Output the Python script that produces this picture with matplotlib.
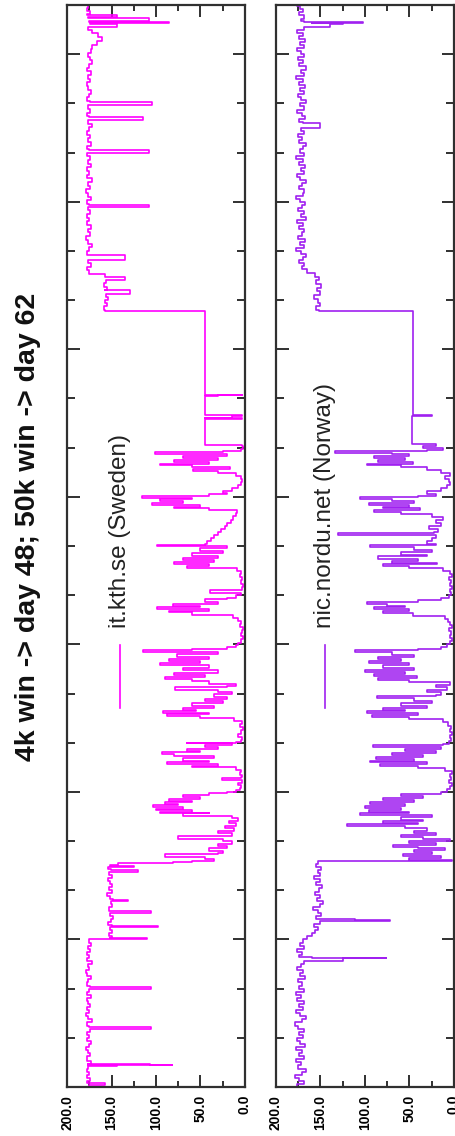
import matplotlib
matplotlib.use("Agg")
import matplotlib.pyplot as plt
from matplotlib.ticker import MultipleLocator, FixedLocator

plt.rcParams['font.family'] = ['Liberation Sans', 'DejaVu Sans']

title = "4k win -> day 48; 50k win -> day 62"
series_names = ["it.kth.se (Sweden)", "nic.nordu.net (Norway)"]
series_colors = ["#ff00ff", "#a020f0"]
value_ticks = [0, 50, 100, 150, 200]
value_tick_labels = ["0.0", "50.0", "100.0", "150.0", "200.0"]

# ---- Sweden (hours since start, value) ----
se_hours = [
    0.0, 0.3, 0.6, 0.7, 1.0, 1.5, 2.0, 2.5, 3.0, 3.4, 3.5, 3.55, 3.6, 3.65, 3.7, 3.8, 4.3, 5.0, 5.5, 6.0,
    6.5, 7.0, 7.5, 8.0, 8.5, 9.0, 9.5, 9.8, 9.9, 10.5, 11.0, 11.5, 12.0, 12.5, 13.0, 13.5, 14.0, 14.5,
    15.0, 15.5, 16.0, 16.3, 16.4, 17.0, 17.5, 18.0, 18.5, 19.0, 19.5, 20.0, 20.5, 21.0, 21.5, 22.0,
    22.5, 23.0, 23.5, 24.0, 24.2, 24.3,
    24.5, 25.0, 25.5, 26.0, 26.2, 26.3, 26.8, 27.3, 27.8, 28.3, 28.6, 28.7, 29.2, 29.7, 30.2, 30.4,
    30.5, 31.0, 31.5, 32.0, 32.5, 33.0, 33.5, 34.0, 34.5, 35.0, 35.3, 35.4, 35.8, 36.0, 36.1, 36.4, 36.6,
    36.8, 37.1, 37.4, 37.9, 38.0, 38.4, 38.8, 39.2, 39.6, 40.0, 40.4, 40.8, 40.9, 41.3, 41.7, 42.1,
    42.5, 42.9, 43.3, 43.7, 44.1, 44.5, 44.6,
    44.8, 45.0, 45.3, 45.5, 45.8, 46.0, 46.3, 46.6, 46.9, 47.2, 47.5, 47.8, 48.0,
    48.3, 48.7, 49.1, 49.5, 49.9, 50.3, 50.4, 50.8, 51.2, 51.6, 52.0,
    52.2, 52.5, 52.9, 53.1, 53.5, 53.8, 54.2, 54.5, 54.7, 55.0, 55.3, 55.6, 55.9, 56.0, 56.1,
    56.5, 57.0, 57.5, 58.0, 58.5, 59.0, 59.5, 60.0,
    60.3, 60.6, 60.8, 61.1, 61.3, 61.7, 62.0, 62.4, 62.8, 63.1, 63.5, 63.9,
    64.2, 64.6, 65.1, 65.2, 65.6, 66.0,
    66.3, 66.7, 67.0, 67.4, 67.8, 68.2, 68.6, 69.0, 69.3, 69.7, 70.0, 70.4, 70.8, 71.1, 71.3, 71.6, 71.9,
    72.3, 72.8, 73.3, 73.8, 74.3, 74.8, 75.3, 75.8, 76.3, 76.8,
    77.2, 77.5, 77.8, 78.0, 78.3, 78.6, 78.9, 79.3, 79.6,
    80.0, 80.4, 80.8, 80.9, 81.4, 81.9, 82.4, 82.9, 83.4, 83.9, 84.4,
    84.7, 85.0, 85.4, 85.7, 86.0, 86.4, 86.8, 87.2, 87.6, 88.0, 88.2, 88.4,
    88.8, 89.3, 89.8, 90.3, 90.8, 91.3, 91.8, 92.3, 92.8, 93.3, 93.8, 94.2,
    94.4, 94.7, 95.0, 95.3, 95.6, 95.8, 96.1, 96.4, 96.6,
    96.9, 97.4, 97.9, 98.4, 98.9, 99.4, 99.9, 100.2, 100.5, 100.8,
    101.1, 101.4, 101.7, 102.0, 102.3, 102.6, 102.9, 103.3, 103.5, 103.8, 104.2, 104.4, 104.5,
    108.7, 108.8, 108.9, 109.2, 109.3, 109.4, 112.4, 112.5, 112.6, 112.7, 126.3,
    126.4, 127.0, 127.5, 128.0, 128.5, 129.0, 129.6, 129.7, 130.2, 130.7, 131.2, 131.7, 131.8, 132.3, 132.9,
    133.4, 134.0, 134.6, 135.3, 135.4, 136.0, 136.6, 137.2, 137.8, 138.4, 139.0, 139.6, 140.2, 140.8,
    141.4, 142.0, 142.6, 143.2, 143.5, 143.6, 144.2, 144.8, 145.4, 146.0, 146.6, 147.2, 147.8, 148.4,
    149.0, 149.6, 150.2, 150.8, 151.4, 152.0, 152.4, 152.5, 153.1, 153.7, 154.3, 154.9, 155.5, 156.1,
    156.7, 157.3, 157.8, 157.9, 158.5, 159.1, 159.7, 160.2, 160.3, 160.4, 161.0, 161.6, 162.2, 162.8,
    163.4, 164.0, 164.6, 165.2, 165.8, 166.4, 167.0, 167.6, 168.2, 168.8, 169.5, 170.2, 170.8, 171.4,
    172.0, 172.4, 172.9, 173.0, 173.1, 173.2, 173.3, 173.4, 173.9, 174.0, 174.4, 174.5, 175.0, 175.5, 176.0,
]
se_vals = [
    176, 175, 157, 176, 178, 174, 177, 175, 178, 176, 144, 176, 82, 129, 107, 176, 173, 177, 174, 176,
    179, 175, 173, 177, 175, 178, 174, 106, 175, 177, 172, 176, 179, 175, 177, 174, 176, 178,
    173, 177, 175, 106, 174, 178, 176, 173, 177, 179, 175, 176, 172, 177, 175, 178,
    174, 176, 173, 175, 110, 152,
    150, 153, 149, 152, 98, 150, 154, 151, 148, 152, 106, 150, 153, 149, 151, 131,
    148, 152, 155, 150, 153, 149, 152, 154, 150, 153, 120, 151, 154, 125, 152, 143, 81,
    60, 35, 45, 90, 30, 25, 40, 20, 30, 15, 25, 75, 20, 15, 30, 12,
    22, 10, 18, 8, 15, 70, 40,
    95, 60, 100, 70, 103, 75, 90, 60, 85, 50, 70, 40, 20,
    10, 6, 4, 8, 3, 26, 5, 3, 6, 4, 10,
    60, 30, 88, 40, 70, 35, 80, 93, 50, 65, 30, 45, 15, 65, 10,
    5, 3, 8, 4, 2, 6, 3, 12,
    50, 88, 40, 92, 55, 70, 35, 60, 25, 45, 20, 35,
    15, 30, 79, 20, 10, 40,
    60, 90, 45, 80, 30, 70, 40, 95, 50, 85, 40, 76, 30, 115, 60, 20, 10,
    8, 4, 2, 5, 3, 2, 6, 4, 8, 13,
    60, 85, 40, 99, 50, 81, 30, 45, 20,
    10, 5, 39, 6, 3, 2, 5, 3, 6, 4, 9,
    65, 40, 80, 35, 70, 30, 60, 25, 50, 20, 99, 45,
    43, 38, 35, 30, 27, 22, 20, 16, 13, 10, 9, 40,
    80, 50, 105, 70, 95, 60, 116, 40, 20,
    25, 15, 8, 5, 3, 4, 10, 30, 58, 17,
    60, 95, 40, 80, 30, 70, 20, 101, 25, 5, 2, 3, 45,
    45, 3, 45, 15, 3, 45, 45, 30, 3, 45, 45,
    157, 158, 155, 157, 154, 156, 129, 157, 155, 158, 156, 135, 155, 157, 175,
    177, 173, 176, 135, 174, 178, 175, 172, 176, 179, 174, 176, 173, 177,
    175, 178, 174, 176, 108, 175, 177, 173, 176, 179, 174, 176, 172, 177,
    175, 178, 173, 176, 174, 177, 108, 175, 178, 173, 176, 174, 177, 175,
    172, 176, 115, 175, 178, 174, 176, 105, 138, 174, 177, 175, 173, 176,
    178, 174, 176, 173, 177, 175, 172, 174, 176, 173, 172, 166, 161, 165,
    172, 176, 144, 174, 127, 85, 108, 175, 108, 176, 144, 177, 174, 178, 176,
]

# ---- Norway (hours since start, value) ----
no_hours = [
    0.0, 0.5, 1.0, 1.5, 2.0, 2.5, 3.0, 3.5, 4.0, 4.5, 5.0, 5.5, 6.0, 6.5, 7.0, 7.5, 8.0, 8.5, 9.0, 9.5,
    10.0, 10.5, 11.0, 11.5, 12.0, 12.5, 13.0, 13.5, 14.0, 14.5, 15.0, 15.5, 16.0, 16.5, 17.0, 17.5,
    18.0, 18.5, 19.0, 19.5, 20.0, 20.5, 21.0, 21.05, 21.1, 21.5, 22.0, 22.5, 23.0, 23.5, 24.0, 24.5,
    25.0, 25.5,
    26.0, 26.5, 27.0, 27.2, 27.25, 27.3, 27.8, 28.3, 28.8, 29.3, 29.8, 30.3, 30.8, 31.3, 31.8, 32.3,
    32.8, 33.3, 33.8, 34.3, 34.8, 35.3, 35.8, 36.3, 36.8, 36.9,
    37.0, 37.3, 37.6, 37.9, 38.2, 38.5, 38.8, 39.1, 39.4, 39.7, 40.0, 40.3, 40.6, 41.0, 41.3, 41.7,
    42.1, 42.5, 42.8, 42.9, 43.2, 43.5, 43.9, 44.2, 44.6, 44.8, 45.1, 45.4, 45.7, 46.0, 46.4, 46.7,
    47.0, 47.4, 47.7, 48.0,
    48.4, 48.9, 49.4, 49.9, 50.4, 50.9, 51.4, 51.9,
    52.2, 52.5, 52.8, 53.1, 53.4, 53.7, 54.0, 54.3, 54.6, 55.0, 55.3, 55.6, 55.8,
    56.3, 56.8, 57.3, 57.8, 58.3, 58.8, 59.3, 59.8,
    60.2, 60.5, 60.8, 61.1, 61.4, 61.7, 62.0, 62.4, 62.8, 63.2, 63.6, 63.8,
    64.2, 64.6, 65.0, 65.4, 65.8,
    66.2, 66.5, 66.8, 67.2, 67.5, 67.9, 68.2, 68.6, 68.9, 69.3, 69.6, 70.0, 70.3, 70.7, 71.1, 71.3, 71.6,
    72.1, 72.6, 73.1, 73.6, 74.1, 74.6, 75.1, 75.6, 76.1, 76.6,
    77.1, 77.4, 77.7, 78.0, 78.3, 78.6, 78.9, 79.2, 79.5,
    80.0, 80.5, 81.0, 81.5, 82.0, 82.5, 83.0, 83.5, 84.0, 84.4,
    84.7, 85.0, 85.3, 85.6, 85.9, 86.3, 86.6, 87.0, 87.4, 87.8, 88.2, 88.4,
    88.8, 89.3, 89.8, 90.1, 90.2, 90.7, 91.2, 91.7, 92.2, 92.7, 93.2,
    93.5, 93.8, 94.1, 94.4, 94.7, 95.0, 95.3, 95.6, 95.9, 96.2, 96.5,
    96.9, 97.4, 97.9, 98.4, 98.9, 99.4, 99.9, 100.4, 100.8,
    101.1, 101.4, 101.7, 102.0, 102.3, 102.6, 102.9, 103.2,
    103.5, 103.6, 103.9, 104.2, 104.6, 104.9,
    109.1, 109.3, 109.4, 126.3,
    126.4, 127.0, 127.6, 128.2, 128.8, 129.4, 130.0, 130.6, 131.2, 131.8, 132.4, 133.0, 133.5,
    134.0, 134.5, 135.0, 135.5, 136.0, 136.5, 137.0, 137.5, 138.0, 138.5, 139.0, 139.5, 140.0, 140.5,
    141.0, 141.5, 142.0, 142.5, 143.0, 143.5, 144.0, 144.5, 145.0, 145.5, 146.0, 146.5, 147.0, 147.5,
    148.0, 148.5, 149.0, 149.5, 150.0, 150.5, 151.0, 151.5, 152.0, 152.5, 153.0, 153.5, 154.0, 154.5,
    155.0, 155.5, 156.0, 156.8, 156.9, 157.5, 158.0, 158.5, 159.0, 159.5, 160.0, 160.5, 161.0, 161.5,
    162.0, 162.5, 163.0, 163.5, 164.0, 164.5, 165.0, 165.5, 166.0, 166.5, 167.0, 167.5, 168.0, 168.5,
    169.0, 169.5, 170.0, 170.5, 171.0, 171.5, 172.0, 172.5, 172.9, 173.0, 173.1, 173.2, 173.3, 173.4,
    173.8, 174.3, 174.8, 175.3, 175.8, 176.0,
]
no_vals = [
    170, 176, 168, 174, 179, 171, 166, 175, 172, 178, 169, 174, 171, 177, 167, 173, 176, 170, 174, 168,
    175, 179, 171, 166, 173, 177, 170, 174, 168, 176, 172, 178, 169, 174, 171, 175,
    167, 173, 170, 176, 172, 168, 125, 76, 160, 174, 171, 176, 169, 173, 170, 165,
    160, 156,
    153, 157, 150, 72, 111, 152, 155, 149, 153, 158, 151, 147, 154, 150, 156, 152,
    148, 155, 151, 157, 150, 153, 149, 155, 153, 2,
    20, 50, 15, 57, 25, 45, 10, 40, 68, 20, 50, 5, 35, 60, 20, 45,
    30, 55, 120, 40, 80, 35, 60, 25, 106, 50, 95, 60, 100, 55, 94, 45,
    80, 35, 60, 15,
    8, 4, 2, 6, 3, 5, 2, 10,
    40, 83, 30, 94, 45, 88, 35, 70, 20, 55, 15, 91, 12,
    6, 3, 5, 2, 4, 3, 7, 12,
    50, 92, 40, 98, 55, 80, 30, 60, 25, 45, 87, 20,
    15, 30, 8, 20, 5,
    50, 85, 42, 90, 55, 100, 45, 80, 50, 95, 60, 85, 45, 70, 111, 40, 15,
    8, 4, 2, 5, 3, 6, 2, 4, 7, 10,
    46, 80, 50, 90, 55, 75, 98, 40, 15,
    6, 3, 5, 2, 4, 3, 6, 2, 5, 12,
    50, 80, 19, 70, 40, 85, 30, 60, 25, 45, 94, 20,
    30, 25, 20, 130, 22, 18, 28, 15, 20, 12, 25,
    60, 90, 38, 80, 50, 95, 45, 70, 106, 40, 20,
    30, 15, 8, 4, 6, 10, 5, 15, 30,
    60, 98, 46, 85, 55, 90, 50, 70,
    134, 30, 12, 35, 20, 47,
    47, 25, 46, 46,
    152, 155, 150, 153, 157, 151, 154, 149, 155, 152, 156, 165, 171,
    168, 174, 170, 166, 172, 177, 169, 173, 167, 175, 171, 168, 174, 170,
    176, 166, 172, 169, 175, 171, 167, 173, 178, 170, 168, 174, 171, 166,
    173, 176, 169, 172, 167, 174, 170, 177, 168, 173, 170, 166, 174, 171,
    175, 168, 172, 150, 170, 174, 167, 171, 176, 169, 173, 166, 172, 175,
    169, 173, 167, 174, 170, 177, 168, 172, 166, 174, 170, 175, 168, 172,
    176, 169, 173, 167, 174, 170, 176, 169, 139, 125, 160, 102, 139, 168,
    172, 168, 174, 170, 173, 176,
]

W, H = 456, 1136
fig = plt.figure(figsize=(W / 100, H / 100), dpi=100)

panels = [
    (67, se_hours, se_vals),
    (276, no_hours, no_vals),
]
frame_col = "#303030"
for i, (x0, hrs, vals) in enumerate(panels):
    ax = fig.add_axes([x0 / W, 49 / H, 178 / W, 1082 / H])
    ax.plot(vals, hrs, color=series_colors[i], lw=1.2, drawstyle='steps-post')
    ax.set_xlim(200, 0)
    ax.set_ylim(0, 176)
    ax.xaxis.set_major_locator(FixedLocator(value_ticks))
    ax.set_xticklabels(value_tick_labels, rotation=90, fontsize=10, fontweight='bold')
    ax.xaxis.set_minor_locator(MultipleLocator(25))
    ax.yaxis.set_major_locator(FixedLocator([24, 48, 72, 96, 120, 144, 168]))
    ax.yaxis.set_minor_locator(MultipleLocator(8))
    ax.set_yticklabels([])
    ax.tick_params(which='both', direction='in', top=True, bottom=True, left=True, right=True,
                   width=1.4, color=frame_col)
    ax.tick_params(which='major', length=9.0, pad=5.5)
    ax.tick_params(which='minor', length=5.5)
    ax.tick_params(axis='x', which='major', length=8.5)
    ax.tick_params(axis='x', which='minor', length=4.5)
    for s in ax.spines.values():
        s.set_linewidth(1.6)
        s.set_color(frame_col)
    # legend (rotated)
    lx = 0.298 if i == 0 else 0.275
    ax.plot([lx, lx], [0.350, 0.4085], transform=ax.transAxes, color=series_colors[i], lw=1.2)
    ax.text(lx, 0.424, series_names[i], transform=ax.transAxes, rotation=90,
            ha='center', va='bottom', fontsize=17.5, color='#222222')

fig.text(28 / W, 1 - 527 / H, title, rotation=90, ha='center', va='center',
         fontsize=20.5, fontweight='bold', color='#111111')

fig.savefig("out.png", dpi=100)
